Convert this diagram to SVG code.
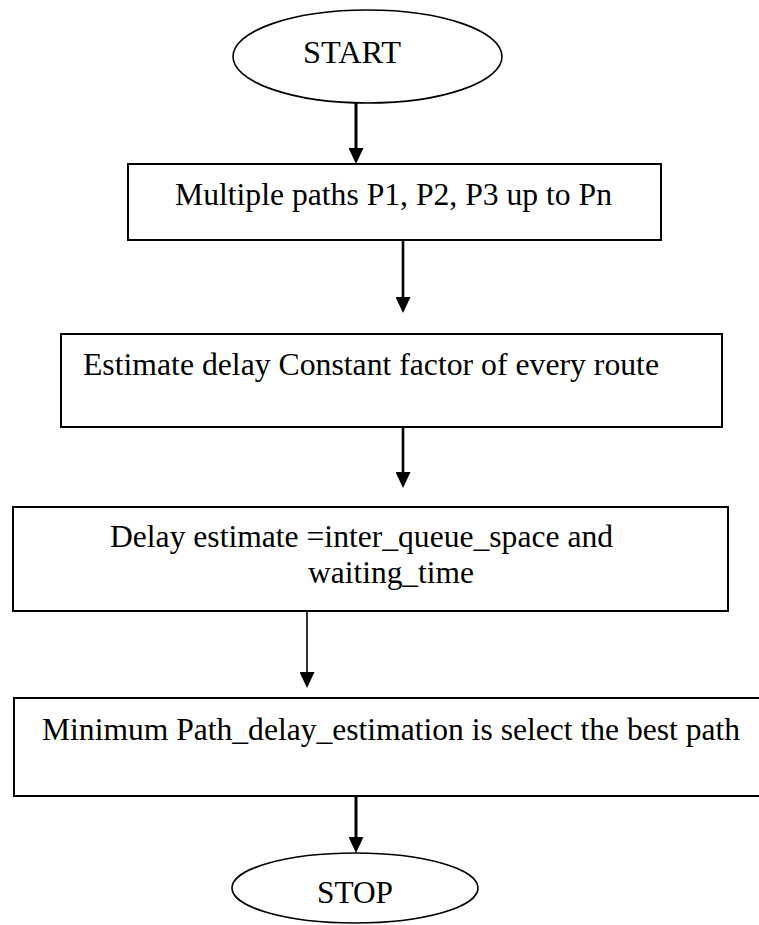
<svg xmlns="http://www.w3.org/2000/svg" width="759" height="925" viewBox="0 0 759 925">
<style>
  .bg { fill: #ffffff; }
  .box { fill: #ffffff; stroke: #000000; stroke-width: 2; }
  .term { fill: #ffffff; stroke: #000000; stroke-width: 1.6; }
  .lbl { font-family: "Liberation Serif", "Times New Roman", serif; font-size: 32px; fill: #000000; }
  .con { fill: none; stroke: #000000; }
</style>
<defs>
  <marker id="ah" markerUnits="userSpaceOnUse" viewBox="0 0 16 15" markerWidth="16" markerHeight="15" refX="3" refY="7.5" orient="auto">
    <path d="M0,0 L16,7.5 L0,15 z" fill="#000000"/>
  </marker>
</defs>
<rect class="bg" x="0" y="0" width="759" height="925"/>

<g id="connectors">
  <line class="con" x1="356" y1="103" x2="356" y2="151" stroke-width="3" marker-end="url(#ah)"/>
  <line class="con" x1="403" y1="241" x2="403" y2="300" stroke-width="2.6" marker-end="url(#ah)"/>
  <line class="con" x1="403" y1="428" x2="403" y2="475" stroke-width="2.6" marker-end="url(#ah)"/>
  <line class="con" x1="307" y1="611" x2="307" y2="675" stroke-width="1.6" marker-end="url(#ah)"/>
  <line class="con" x1="356" y1="796" x2="356" y2="840" stroke-width="3" marker-end="url(#ah)"/>
</g>

<g id="start">
  <ellipse class="term" cx="367.5" cy="56.5" rx="134.5" ry="46.5"/>
  <text class="lbl" x="303" y="63" textLength="98" lengthAdjust="spacingAndGlyphs">START</text>
</g>

<g id="paths">
  <rect class="box" x="128" y="164" width="533" height="76"/>
  <text class="lbl" x="175" y="205" textLength="437" lengthAdjust="spacingAndGlyphs">Multiple paths P1, P2, P3 up to Pn</text>
</g>

<g id="estimate">
  <rect class="box" x="61" y="334" width="661" height="93" stroke-width="2.6"/>
  <text class="lbl" x="83" y="375" textLength="576" lengthAdjust="spacingAndGlyphs">Estimate delay Constant factor of every route</text>
</g>

<g id="delay">
  <rect class="box" x="13" y="507" width="715" height="104"/>
  <text class="lbl" x="110" y="547" textLength="503" lengthAdjust="spacingAndGlyphs">Delay estimate =inter_queue_space and</text>
  <text class="lbl" x="308" y="583" textLength="166" lengthAdjust="spacingAndGlyphs">waiting_time</text>
</g>

<g id="minimum">
  <rect class="box" x="14" y="698" width="748" height="98"/>
  <text class="lbl" x="42" y="740" textLength="698" lengthAdjust="spacingAndGlyphs">Minimum Path_delay_estimation is select the best path</text>
</g>

<g id="stop">
  <ellipse class="term" cx="355" cy="888" rx="123" ry="35"/>
  <text class="lbl" x="317" y="903" textLength="76" lengthAdjust="spacingAndGlyphs">STOP</text>
</g>
</svg>
